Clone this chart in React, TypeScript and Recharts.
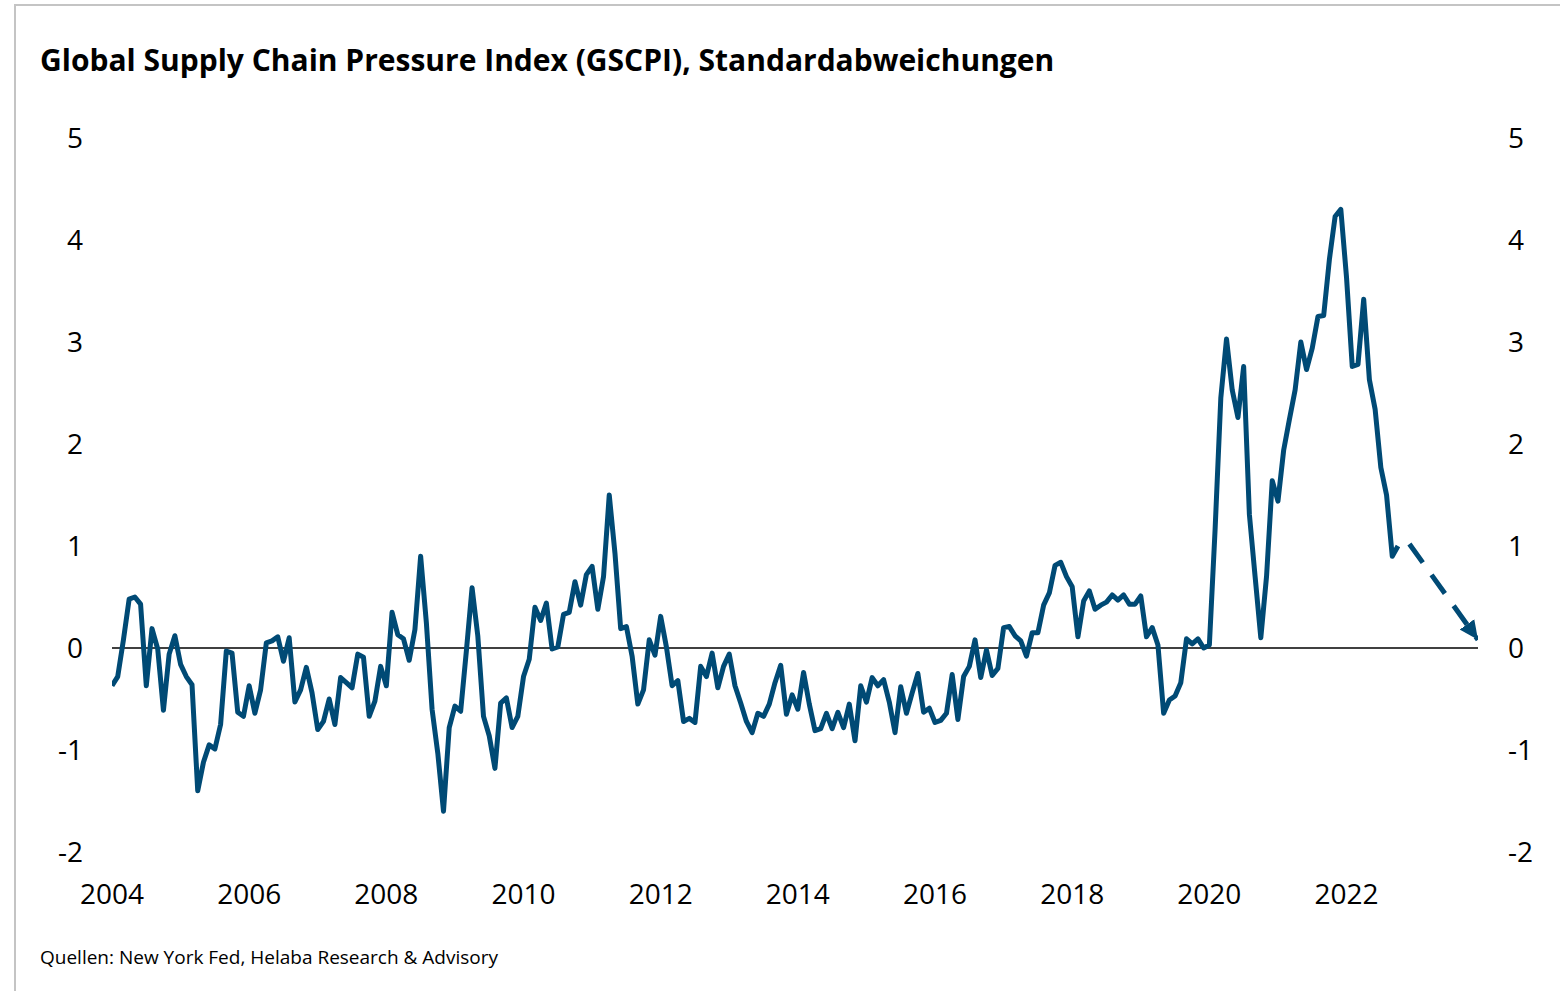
import React from "react";
import { LineChart, Line, XAxis, YAxis, ReferenceLine } from "recharts";

// GSCPI monthly values, starting January 2004 (standard deviations)
const START_YEAR = 2004;
const gscpiValues: number[] = [
  -0.37, -0.28, 0.08, 0.48, 0.5, 0.43, -0.37, 0.19, -0.01, -0.61, -0.06, 0.12,
  -0.16, -0.28, -0.36, -1.4, -1.12, -0.95, -0.99, -0.75, -0.03, -0.05, -0.63, -0.67,
  -0.37, -0.64, -0.41, 0.05, 0.07, 0.11, -0.13, 0.1, -0.53, -0.41, -0.19, -0.44,
  -0.8, -0.72, -0.5, -0.75, -0.29, -0.34, -0.39, -0.06, -0.09, -0.67, -0.52, -0.18,
  -0.37, 0.35, 0.13, 0.09, -0.12, 0.18, 0.9, 0.25, -0.6, -1.03, -1.6, -0.78,
  -0.57, -0.62, -0.03, 0.59, 0.12, -0.67, -0.86, -1.18, -0.54, -0.49, -0.78, -0.67,
  -0.28, -0.11, 0.4, 0.27, 0.44, -0.01, 0.01, 0.33, 0.35, 0.65, 0.42, 0.72,
  0.8, 0.38, 0.7, 1.5, 0.93, 0.19, 0.21, -0.08, -0.55, -0.41, 0.08, -0.07,
  0.31, 0.01, -0.37, -0.32, -0.72, -0.69, -0.73, -0.18, -0.28, -0.05, -0.39, -0.18,
  -0.06, -0.37, -0.54, -0.72, -0.83, -0.64, -0.67, -0.55, -0.34, -0.17, -0.65, -0.46,
  -0.6, -0.24, -0.55, -0.81, -0.79, -0.64, -0.79, -0.63, -0.78, -0.55, -0.91, -0.37,
  -0.53, -0.29, -0.37, -0.31, -0.53, -0.83, -0.38, -0.64, -0.44, -0.25, -0.63, -0.59,
  -0.73, -0.71, -0.64, -0.26, -0.7, -0.28, -0.18, 0.08, -0.29, -0.02, -0.27, -0.2,
  0.2, 0.21, 0.12, 0.07, -0.08, 0.15, 0.15, 0.42, 0.54, 0.81, 0.84, 0.7,
  0.6, 0.11, 0.46, 0.56, 0.38, 0.42, 0.45, 0.52, 0.47, 0.52, 0.43, 0.43,
  0.51, 0.11, 0.2, 0.03, -0.64, -0.51, -0.47, -0.34, 0.09, 0.04, 0.09, 0.0,
  0.03, 1.16, 2.45, 3.03, 2.53, 2.26, 2.76, 1.31, 0.7, 0.1, 0.7, 1.64,
  1.44, 1.94, 2.24, 2.53, 3.0, 2.73, 2.94, 3.25, 3.26, 3.81, 4.23, 4.3,
  3.63, 2.76, 2.78, 3.42, 2.63, 2.34, 1.77, 1.5, 0.9, 1.0,
];

// Forecast arrow: month index (from Jan 2004) and value
const forecastMonths: number[] = [227, 239];
const forecastValues: number[] = [1.02, 0.08];

const xTicks: number[] = [2004, 2006, 2008, 2010, 2012, 2014, 2016, 2018, 2020, 2022];
const yTicks: number[] = [-2, -1, 0, 1, 2, 3, 4, 5];
const xEnd = START_YEAR + 239 / 12;

const mainData = gscpiValues.map((v, i) => ({ t: START_YEAR + i / 12, v }));
const forecastData = forecastMonths.map((m, i) => ({ t: START_YEAR + m / 12, v: forecastValues[i] }));

const LINE_COLOR = "#004a75";
const FONT = "'Open Sans', 'DejaVu Sans', sans-serif";

export default function App() {
  return (
    <div
      style={{
        position: "fixed",
        left: 0,
        top: 0,
        width: 1560,
        height: 991,
        overflow: "hidden",
        background: "#fff",
        fontFamily: FONT,
      }}
    >
      <div
        style={{
          position: "absolute",
          left: 14,
          top: 4,
          width: 1700,
          height: 1200,
          border: "2px solid #c4c4c4",
          boxSizing: "border-box",
        }}
      />
      <div
        style={{
          position: "absolute",
          left: 40,
          top: 45,
          fontSize: 30,
          lineHeight: "30px",
          fontWeight: 700,
          color: "#000",
          whiteSpace: "nowrap",
        }}
      >
        Global Supply Chain Pressure Index (GSCPI), Standardabweichungen
      </div>
      <div
        style={{
          position: "absolute",
          left: 40,
          top: 948,
          fontSize: 19,
          lineHeight: "19px",
          color: "#000",
          whiteSpace: "nowrap",
        }}
      >
        Quellen: New York Fed, Helaba Research &amp; Advisory
      </div>
      <div style={{ position: "absolute", left: 0, top: 0 }}>
        <LineChart width={1560} height={991} margin={{ top: 138, right: 0, bottom: 79, left: 0 }}>
          <defs>
            <marker
              id="arrowHead"
              markerUnits="userSpaceOnUse"
              markerWidth={24}
              markerHeight={24}
              refX={19}
              refY={9}
              orient="auto"
            >
              <path d="M0,0 L19,9 L0,18 Z" fill={LINE_COLOR} />
            </marker>
          </defs>
          <XAxis
            dataKey="t"
            type="number"
            domain={[START_YEAR, xEnd]}
            ticks={xTicks}
            allowDataOverflow
            axisLine={false}
            tickLine={false}
            tickSize={0}
            tickMargin={32}
            height={60}
            interval={0}
            tickFormatter={(v: number) => String(Math.round(v))}
            tick={{ fontSize: 28, fill: "#000", fontFamily: FONT }}
          />
          <YAxis
            yAxisId="left"
            orientation="left"
            type="number"
            domain={[-2, 5]}
            ticks={yTicks}
            width={112}
            axisLine={false}
            tickLine={false}
            tickSize={0}
            tickMargin={29}
            interval={0}
            tick={{ fontSize: 28, fill: "#000", fontFamily: FONT }}
          />
          <YAxis
            yAxisId="right"
            orientation="right"
            type="number"
            domain={[-2, 5]}
            ticks={yTicks}
            width={82}
            axisLine={false}
            tickLine={false}
            tickSize={0}
            tickMargin={30}
            interval={0}
            tick={{ fontSize: 28, fill: "#000", fontFamily: FONT }}
          />
          <ReferenceLine yAxisId="left" y={0} stroke="#000" strokeWidth={1.6} />
          <Line
            yAxisId="left"
            data={mainData}
            dataKey="v"
            type="linear"
            stroke={LINE_COLOR}
            strokeWidth={5}
            strokeLinejoin="round"
            dot={false}
            activeDot={false}
            isAnimationActive={false}
          />
          <Line
            yAxisId="right"
            data={forecastData}
            dataKey="v"
            type="linear"
            stroke={LINE_COLOR}
            strokeWidth={5}
            strokeDasharray="23 15"
            markerEnd="url(#arrowHead)"
            dot={false}
            activeDot={false}
            isAnimationActive={false}
          />
        </LineChart>
      </div>
    </div>
  );
}
